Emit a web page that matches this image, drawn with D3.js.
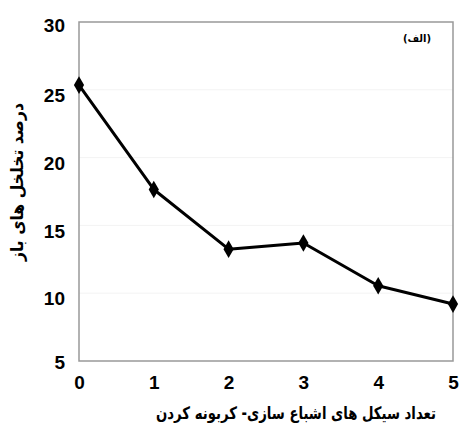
<!DOCTYPE html>
<html>
<head>
<meta charset="utf-8">
<script src="https://cdn.jsdelivr.net/npm/d3@7"></script>
<style>
  body { margin: 0; background: #fff; }
  .tick text { font-family: "Liberation Sans", Arial, sans-serif; font-weight: bold; font-size: 19px; fill: #000; }
  .axisTitle { font-family: "DejaVu Sans", sans-serif; font-weight: bold; font-size: 17px; fill: #000; }
</style>
</head>
<body>
<div id="chart"></div>
<script>
// cycles and open porosity (%)
var cycles = [0, 1, 2, 3, 4, 5];
var porosity = [25.35, 17.65, 13.25, 13.7, 10.55, 9.2];
var yTicks = [5, 10, 15, 20, 25, 30];
var xTitle = "تعداد سیکل های اشباع سازی- کربونه کردن";
var yTitle = "درصد تخلخل های باز";
var panelLabel = "(الف)";

var svgWidth = 461, svgHeight = 425;
var margin = { top: 22, right: 8, bottom: 64, left: 79 };
var chartWidth = svgWidth - margin.left - margin.right;
var chartHeight = svgHeight - margin.top - margin.bottom;

var svg = d3.select("#chart").append("svg")
    .attr("width", svgWidth)
    .attr("height", svgHeight);

var chartGroup = svg.append("g")
    .attr("transform", `translate(${margin.left}, ${margin.top})`);

var xScale = d3.scaleLinear().domain([0, 5]).range([0, chartWidth]);
var yScale = d3.scaleLinear().domain([5, 30]).range([chartHeight, 0]);

// faint gridlines
chartGroup.append("g")
    .selectAll("line")
    .data(yTicks.slice(1, -1))
    .enter()
    .append("line")
    .attr("x1", 0).attr("x2", chartWidth)
    .attr("y1", d => yScale(d)).attr("y2", d => yScale(d))
    .attr("stroke", "#f3f3f3");

// frame
chartGroup.append("rect")
    .attr("width", chartWidth)
    .attr("height", chartHeight)
    .attr("fill", "none")
    .attr("stroke", "#999")
    .attr("stroke-width", 1.5);

// axes (no tick marks)
var xAxis = chartGroup.append("g")
    .attr("transform", `translate(0, ${chartHeight})`)
    .call(d3.axisBottom(xScale).tickValues(cycles).tickFormat(d3.format("d")).tickSize(0).tickPadding(15));
xAxis.select(".domain").remove();

var yAxis = chartGroup.append("g")
    .call(d3.axisLeft(yScale).tickValues(yTicks).tickSize(0).tickPadding(14));
yAxis.select(".domain").remove();
yAxis.selectAll(".tick text").attr("dy", "0.62em");
yAxis.selectAll(".tick").filter(d => d === 30).select("text").attr("dy", "0.52em");
yAxis.selectAll(".tick").filter(d => d === 5).select("text").attr("dy", "0.41em");

// line
var line = d3.line()
    .x((d, i) => xScale(cycles[i]))
    .y(d => yScale(d));

chartGroup.append("path")
    .datum(porosity)
    .attr("d", line)
    .attr("fill", "none")
    .attr("stroke", "#000")
    .attr("stroke-width", 3)
    .attr("stroke-linejoin", "round");

// diamond markers
chartGroup.append("g")
    .selectAll("path")
    .data(porosity)
    .enter()
    .append("path")
    .attr("d", d3.symbol().type(d3.symbolDiamond).size(90))
    .attr("transform", (d, i) => `translate(${xScale(cycles[i])}, ${yScale(d)})`)
    .attr("fill", "#000");

// panel label
chartGroup.append("text")
    .attr("x", chartWidth - 36)
    .attr("y", 20)
    .attr("text-anchor", "middle")
    .attr("font-family", "DejaVu Sans, sans-serif")
    .attr("font-weight", "bold")
    .attr("font-size", 10)
    .text(panelLabel);

// axis titles
svg.append("text")
    .attr("class", "axisTitle")
    .attr("transform", `translate(${margin.left + chartWidth / 2 + 30}, ${svgHeight - 6}) scale(0.78, 1)`)
    .attr("text-anchor", "middle")
    .attr("direction", "rtl")
    .text(xTitle);

svg.append("text")
    .attr("class", "axisTitle")
    .attr("transform", `translate(23, ${margin.top + 160}) rotate(-90) scale(0.92, 1)`)
    .attr("text-anchor", "middle")
    .attr("direction", "rtl")
    .text(yTitle);
</script>
</body>
</html>
